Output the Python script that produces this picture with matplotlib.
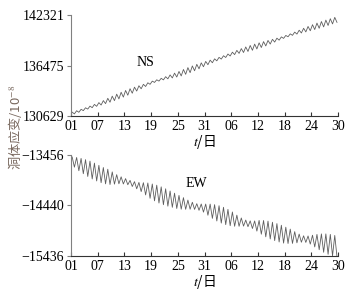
import matplotlib
matplotlib.use("Agg")
import matplotlib.pyplot as plt
import numpy as np

plt.rcParams['font.family'] = ['Liberation Serif', 'Noto Sans CJK SC', 'DejaVu Sans']
plt.rcParams['mathtext.fontset'] = 'stix'

# tick labels (day of month, two months)
x_ticks = [0, 6, 12, 18, 24, 30, 36, 42, 48, 54, 60]
x_labels = ['01', '07', '13', '19', '25', '31', '06', '12', '18', '24', '30']

ns_ticks = [130629, 136475, 142321]
ns_labels = ['130629', '136475', '142321']
ew_ticks = [-15436, -14440, -13456]
ew_labels = ['\u221215436', '\u221214440', '\u221213456']

# NS: daily mean level and daily peak-to-trough range
ns_mid = [130976, 131154, 131332, 131510, 131688, 131866, 132044, 132242, 132457, 132672,
          132887, 133102, 133317, 133532, 133747, 133962, 134177, 134392, 134597, 134752,
          134907, 135062, 135217, 135372, 135534, 135740, 135946, 136152, 136358, 136564,
          136764, 136951, 137138, 137325, 137512, 137699, 137886, 138060, 138215, 138370,
          138525, 138680, 138835, 138998, 139176, 139354, 139532, 139710, 139887, 140061,
          140235, 140409, 140583, 140757, 140927, 141095, 141263, 141431, 141599, 141767]
ns_range = [200, 180, 150, 150, 180, 220, 280,
            350, 450, 520, 550, 560, 550, 520, 450, 350,
            250, 180, 150, 150, 180, 250,
            350, 450, 520, 560, 580, 560, 520, 450, 380,
            300, 230, 200, 200, 230, 280,
            350, 450, 520, 560, 560, 540, 500, 420, 320,
            230, 170, 150, 170, 230,
            320, 420, 500, 560, 600, 620, 620, 600, 580]

# EW
ew_mid = [-13593, -13632, -13671, -13710, -13749, -13788, -13827, -13860, -13883, -13906,
          -13929, -13952, -13977, -14012, -14047, -14082, -14117, -14153, -14188, -14221,
          -14254, -14287, -14320, -14353, -14382, -14405, -14428, -14451, -14474, -14495,
          -14526, -14557, -14588, -14619, -14650, -14681, -14712, -14743, -14769, -14795,
          -14821, -14847, -14872, -14899, -14926, -14953, -14980, -15007, -15030, -15048,
          -15067, -15085, -15104, -15122, -15142, -15162, -15182, -15202, -15222, -15242]
ew_range = [200, 260, 300, 330, 350, 350, 340, 320, 300,
            240, 180, 140, 120, 120, 140, 180, 240,
            300, 330, 350, 350, 340, 320, 300, 270, 230,
            180, 140, 130, 160, 220,
            280, 320, 340, 340, 320, 280,
            220, 160, 130, 150, 200,
            270, 320, 350, 360, 360, 350, 320, 280, 220,
            160, 130, 160,
            230, 300, 360, 400, 420, 420]


def zigzag(mid, rng):
    # daily high then daily low
    days = np.arange(len(mid))
    t = np.column_stack([days + 0.25, days + 0.75]).ravel()
    mid = np.array(mid, dtype=float)
    half = np.array(rng, dtype=float) / 2
    v = np.column_stack([mid + half, mid - half]).ravel()
    return t, v


fig = plt.figure(figsize=(3.45, 2.96), dpi=100)
ax1 = fig.add_axes([0.206, 0.608, 0.774, 0.341])
ax2 = fig.add_axes([0.206, 0.135, 0.774, 0.341])

line_color = '#5e5e5e'
for ax, mid, rng, yt, yl, name, pos in [
        (ax1, ns_mid, ns_range, ns_ticks, ns_labels, 'NS', (0.277, 0.535)),
        (ax2, ew_mid, ew_range, ew_ticks, ew_labels, 'EW', (0.47, 0.72))]:
    t, v = zigzag(mid, rng)
    ax.plot(t, v, color=line_color, lw=0.6)
    ax.set_xlim(0, 60)
    ax.set_ylim(yt[0], yt[-1])
    ax.set_xticks(x_ticks, labels=x_labels)
    ax.set_yticks(yt, labels=yl)
    ax.spines['top'].set_visible(False)
    ax.spines['right'].set_visible(False)
    ax.spines['left'].set_color('#808080')
    ax.spines['bottom'].set_color('#333333')
    ax.tick_params(axis='x', direction='in', length=3, pad=3, labelsize=10, color='#333333')
    ax.tick_params(axis='y', direction='out', length=3, pad=2, labelsize=10, color='#808080')
    ax.set_xlabel('$t$/日', fontsize=10, family='Noto Sans CJK SC', labelpad=0)
    ax.text(pos[0], pos[1], name, transform=ax.transAxes, fontsize=10,
            ha='center', va='center')

fig.text(15 / 345, 1 - 127 / 296, '洞体应变/10$^{-8}$', rotation=90, fontsize=9.5,
         family='Noto Sans CJK SC', color='#7a6a60', ha='center', va='center')

fig.savefig('out.png', dpi=100)
